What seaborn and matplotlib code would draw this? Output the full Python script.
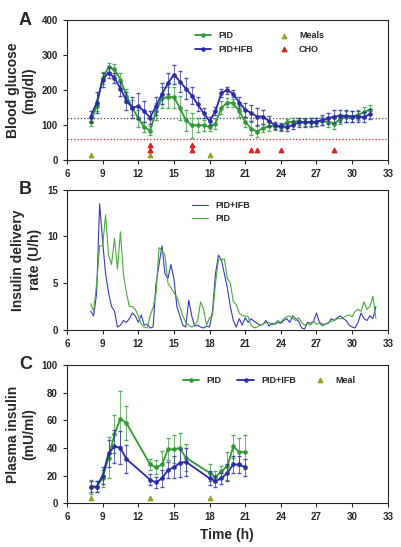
import numpy as np
import seaborn as sns
import matplotlib
matplotlib.use("Agg")
import matplotlib.pyplot as plt

sns.set_style("ticks")
plt.rcParams['font.family'] = ['Liberation Sans', 'DejaVu Sans']

GREEN = "#2f9a34"
BLUE = "#2a2ba6"

# Panel A: blood glucose, half-hourly
bg_time = [8 + 0.5 * i for i in range(48)]
bg_pid = [110, 155, 235, 265, 260, 230, 185, 150, 120, 95, 85, 140, 178, 180, 180, 150,
          115, 100, 100, 100, 95, 105, 150, 165, 163, 140, 110, 90, 82, 92, 97, 97,
          95, 108, 110, 112, 108, 108, 110, 112, 110, 105, 118, 125, 125, 130, 137, 145]
bg_ifb = [125, 165, 230, 250, 235, 205, 170, 150, 155, 140, 122, 155, 190, 220, 245, 225,
          205, 185, 160, 135, 112, 140, 193, 200, 190, 165, 145, 135, 125, 125, 112, 100,
          97, 95, 100, 108, 108, 110, 110, 115, 120, 125, 127, 127, 125, 125, 123, 132]
bg_pid_err = [12, 15, 18, 12, 15, 18, 20, 22, 25, 15, 12, 25, 30, 30, 30, 35,
              30, 35, 20, 15, 10, 15, 18, 12, 12, 15, 15, 18, 15, 12, 12, 10,
              10, 10, 10, 10, 10, 12, 12, 12, 15, 15, 15, 15, 15, 15, 15, 12]
bg_ifb_err = [15, 30, 20, 15, 15, 20, 25, 30, 38, 30, 18, 25, 30, 30, 28, 30,
              30, 25, 20, 15, 12, 12, 12, 10, 10, 15, 20, 22, 25, 20, 15, 10,
              10, 10, 12, 12, 12, 12, 12, 15, 15, 18, 18, 18, 15, 15, 15, 15]
meal_times = [8, 13, 18]
cho_times = [13, 13, 16.5, 16.5, 21.5, 22, 24, 28.5]
cho_levels = [45, 30, 45, 30, 30, 30, 30, 30]

# Panel B: insulin delivery, quarter-hourly
idr_time = [8 + 0.25 * i for i in range(97)]
idr_ifb = [2, 1.5, 4, 13.5, 9.5, 6, 4, 2.5, 2, 0.3, 0.5, 1, 0.8, 1.2, 1.8, 1.5,
           0.8, 1.6, 0.5, 0.6, 0.2, 0.3, 5, 7, 9, 6, 5.5, 7, 5.5, 2.5, 1.5, 0.5,
           0.3, 3.2, 1.5, 0.4, 0.5, 0.3, 0.2, 0.4, 0.3, 2, 6, 8, 7.5, 6, 4.5, 2.5,
           1, 0.3, 1.2, 0.5, 1.3, 0.8, 1.2, 0.9, 0.7, 0.5, 0.6, 1, 0.4, 0.7, 0.6, 0.8,
           0.7, 1, 1.2, 0.8, 1.5, 1.2, 0.9, 0.2, 0.1, 0.8, 0.7, 0.9, 1.8, 0.8, 0.6, 0.6,
           0.7, 1.2, 1.0, 1.3, 1.5, 1.2, 1.0, 0.5, 0.3, 0.2, 0.8, 1.8, 1.2, 1.0, 1.5, 1.2, 2.5]
idr_pid = [2.8, 2, 5, 9, 9, 12.3, 8, 7, 9.8, 6.5, 10.5, 6, 4, 2.5, 2.5, 2.2,
           1.5, 0.6, 0.3, 0.2, 1.5, 2.4, 4, 8.8, 8.5, 8, 5, 4.5, 4, 3.5, 2.5, 1.5,
           0.8, 0.5, 0.3, 0.5, 1, 3, 2.2, 0.5, 1.3, 1.5, 5, 7.5, 7.5, 7.6, 5.5, 5,
           3, 2.7, 1.8, 1.5, 1.5, 1.4, 0.5, 0.2, 0.3, 0.5, 0.6, 0.8, 0.8, 0.5, 0.7, 1.0,
           0.8, 1.2, 1.4, 1.5, 1.2, 1.0, 1.3, 0.8, 0.5, 0.7, 0.5, 0.9, 0.6, 0.7, 0.4, 0.6,
           0.8, 0.9, 1.0, 1.2, 1.2, 1.3, 1.5, 1.6, 1.4, 2.0, 2.2, 2.0, 3, 2.2, 2.5, 3.6, 1.2]

# Panel C: plasma insulin
pi_time = [8, 8.5, 9, 9.5, 10, 10.5, 11, 13, 13.5, 14, 14.5, 15, 15.5, 16, 18, 18.5, 19, 19.5, 20, 20.5, 21]
pi_pid = [12, 12, 18, 33, 50, 61, 58, 28, 26, 28, 39, 39, 40, 33, 22, 19, 23, 27, 41, 37, 37]
pi_ifb = [12, 12, 20, 36, 41, 40, 32, 17, 15, 18, 24, 26, 29, 30, 18, 16, 18, 22, 28, 28, 26]
pi_pid_err = [5, 4, 6, 15, 14, 20, 12, 4, 5, 10, 8, 10, 11, 10, 6, 4, 4, 10, 8, 10, 12]
pi_ifb_err = [4, 4, 6, 10, 12, 12, 10, 4, 4, 6, 6, 8, 10, 10, 5, 4, 4, 6, 6, 6, 6]

fig = plt.figure(figsize=(4.01, 5.47), dpi=100)
axA = fig.add_axes([0.167, 0.707, 0.80, 0.256])
axB = fig.add_axes([0.167, 0.397, 0.80, 0.256])
axC = fig.add_axes([0.167, 0.080, 0.80, 0.253])

lab = dict(fontsize=10, fontweight='bold')


def style(ax, ylim, yticks):
    ax.set_xlim(6, 33)
    ax.set_xticks(range(6, 34, 3))
    ax.set_ylim(*ylim)
    ax.set_yticks(yticks)
    ax.tick_params(labelsize=7, length=3, width=0.8)
    for t in ax.get_xticklabels() + ax.get_yticklabels():
        t.set_fontweight('bold')
    for s in ax.spines.values():
        s.set_linewidth(0.8)


# A
axA.axhline(120, color='#444444', ls=':', lw=0.9)
axA.axhline(60, color='#cc2222', ls=':', lw=0.9)
for y, e, c, name in [(bg_pid, bg_pid_err, GREEN, 'PID'), (bg_ifb, bg_ifb_err, BLUE, 'PID+IFB')]:
    axA.errorbar(bg_time, y, yerr=e, fmt='none', ecolor=c, elinewidth=0.6, capsize=1.5, alpha=0.8)
    sns.lineplot(x=bg_time, y=y, ax=axA, color=c, lw=1.3, marker='o', ms=2.5, mec=c, label=name)
axA.scatter(meal_times, [14] * 3, marker='^', s=10, color='#9aa126', label='Meals', zorder=3)
axA.scatter(cho_times, cho_levels, marker='^', s=10, color='#e02020', label='CHO', zorder=3)
style(axA, (0, 400), range(0, 401, 100))
axA.set_ylabel('Blood glucose\n(mg/dl)', **lab)
axA.legend(ncol=2, frameon=False, loc='upper center', bbox_to_anchor=(0.6, 0.98),
           handlelength=1.8, columnspacing=2.5, prop={'weight': 'bold', 'size': 6.5})

# B
sns.lineplot(x=idr_time, y=idr_ifb, ax=axB, color='#3a3ab8', lw=0.8, label='PID+IFB')
sns.lineplot(x=idr_time, y=idr_pid, ax=axB, color='#4aaa3a', lw=0.8, label='PID')
style(axB, (0, 15), [0, 5, 10, 15])
axB.set_ylabel('Insulin delivery\nrate (U/h)', **lab)
axB.legend(frameon=False, loc='upper center', bbox_to_anchor=(0.48, 0.98),
           handlelength=1.8, prop={'weight': 'bold', 'size': 6.5})

# C
for y, e, c, name in [(pi_pid, pi_pid_err, GREEN, 'PID'), (pi_ifb, pi_ifb_err, BLUE, 'PID+IFB')]:
    axC.errorbar(pi_time, y, yerr=e, fmt='none', ecolor=c, elinewidth=0.6, capsize=1.5, alpha=0.8)
    sns.lineplot(x=pi_time, y=y, ax=axC, color=c, lw=1.3, marker='o', ms=2.5, mec=c, label=name)
axC.scatter(meal_times, [4] * 3, marker='^', s=10, color='#9aa126', label='Meal', zorder=3)
style(axC, (0, 100), range(0, 101, 20))
axC.set_ylabel('Plasma insulin\n(mU/ml)', **lab)
axC.set_xlabel('Time (h)', **lab)
axC.legend(ncol=3, frameon=False, loc='upper center', bbox_to_anchor=(0.63, 0.98),
           handlelength=1.8, columnspacing=1.8, prop={'weight': 'bold', 'size': 6.5})

for ax, letter in [(axA, 'A'), (axB, 'B'), (axC, 'C')]:
    ax.text(-0.15, 1.0, letter, transform=ax.transAxes, fontsize=13, fontweight='bold',
            va='center', ha='left')

fig.savefig('out.png', dpi=100)
